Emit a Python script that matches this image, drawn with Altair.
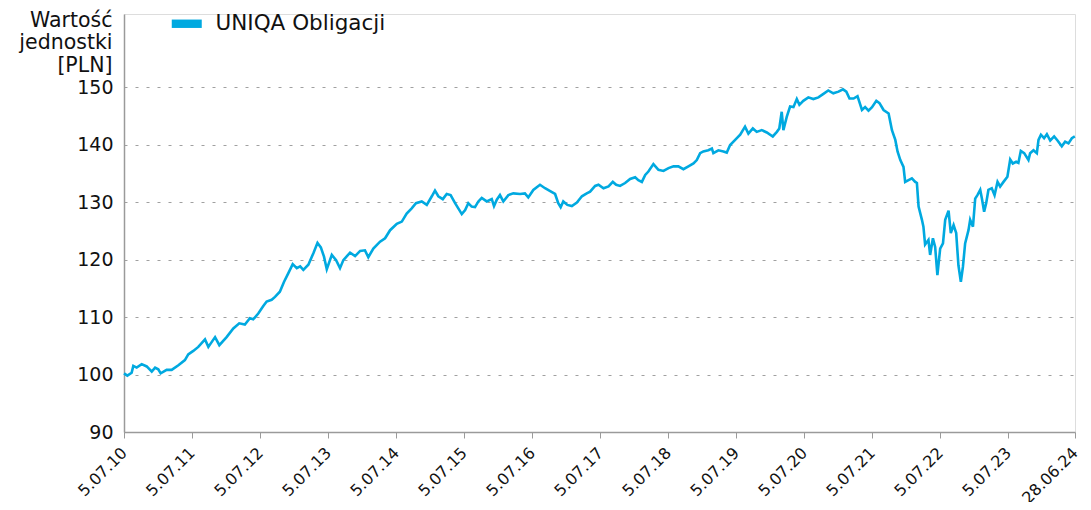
import altair as alt
import pandas as pd

# Decimal-year positions and fund unit values
YEARS = [
    2010.508, 2010.557, 2010.621, 2010.645, 2010.695, 2010.768, 2010.842, 2010.915, 2010.964, 2011.012,
    2011.048, 2011.136, 2011.209, 2011.307, 2011.405, 2011.454, 2011.527, 2011.601, 2011.699, 2011.748,
    2011.846, 2011.909, 2012.018, 2012.115, 2012.204, 2012.287, 2012.361, 2012.409, 2012.483, 2012.557,
    2012.607, 2012.680, 2012.729, 2012.802, 2012.861, 2012.924, 2012.989, 2013.048, 2013.096, 2013.145,
    2013.218, 2013.292, 2013.351, 2013.401, 2013.449, 2013.489, 2013.562, 2013.626, 2013.684, 2013.733,
    2013.832, 2013.905, 2013.979, 2014.052, 2014.101, 2014.174, 2014.273, 2014.346, 2014.420, 2014.518,
    2014.592, 2014.665, 2014.739, 2014.802, 2014.886, 2014.959, 2015.033, 2015.082, 2015.130, 2015.195,
    2015.254, 2015.312, 2015.376, 2015.439, 2015.474, 2015.523, 2015.571, 2015.621, 2015.670, 2015.718,
    2015.768, 2015.842, 2015.915, 2015.949, 2015.989, 2016.037, 2016.086, 2016.159, 2016.233, 2016.332,
    2016.405, 2016.454, 2016.527, 2016.626, 2016.699, 2016.762, 2016.846, 2016.895, 2016.930, 2016.968,
    2017.027, 2017.092, 2017.165, 2017.239, 2017.312, 2017.361, 2017.434, 2017.483, 2017.557, 2017.630,
    2017.695, 2017.743, 2017.802, 2017.876, 2017.949, 2018.023, 2018.071, 2018.121, 2018.170, 2018.218,
    2018.292, 2018.365, 2018.439, 2018.512, 2018.586, 2018.659, 2018.733, 2018.807, 2018.880, 2018.930,
    2018.979, 2019.027, 2019.101, 2019.151, 2019.174, 2019.248, 2019.321, 2019.371, 2019.420, 2019.493,
    2019.567, 2019.640, 2019.689, 2019.754, 2019.812, 2019.886, 2019.959, 2020.048, 2020.107, 2020.145,
    2020.180, 2020.204, 2020.254, 2020.302, 2020.351, 2020.401, 2020.439, 2020.498, 2020.571, 2020.645,
    2020.718, 2020.792, 2020.865, 2020.939, 2021.012, 2021.077, 2021.126, 2021.174, 2021.233, 2021.292,
    2021.357, 2021.405, 2021.454, 2021.504, 2021.567, 2021.615, 2021.674, 2021.748, 2021.798, 2021.846,
    2021.880, 2021.920, 2021.968, 2021.993, 2022.042, 2022.092, 2022.140, 2022.165, 2022.189, 2022.239,
    2022.262, 2022.287, 2022.336, 2022.361, 2022.401, 2022.434, 2022.468, 2022.508, 2022.548, 2022.582,
    2022.630, 2022.665, 2022.704, 2022.743, 2022.777, 2022.812, 2022.842, 2022.876, 2022.924, 2022.949,
    2022.989, 2023.023, 2023.057, 2023.096, 2023.121, 2023.155, 2023.184, 2023.218, 2023.268, 2023.307,
    2023.351, 2023.390, 2023.439, 2023.498, 2023.537, 2023.577, 2023.626, 2023.659, 2023.695, 2023.743,
    2023.807, 2023.832, 2023.880, 2023.930, 2023.954, 2023.989, 2024.037, 2024.077, 2024.126, 2024.184,
    2024.233, 2024.298, 2024.346, 2024.395, 2024.445, 2024.490,
]
VALUES = [
    100.2, 99.8, 100.3, 101.5, 101.2, 101.8, 101.4, 100.5, 101.2, 100.9,
    100.2, 100.8, 100.8, 101.6, 102.5, 103.5, 104.1, 104.8, 106.1, 104.8,
    106.5, 105.1, 106.5, 108.0, 108.9, 108.7, 109.8, 109.6, 110.6, 111.9,
    112.7, 113.0, 113.5, 114.4, 116.1, 117.6, 119.2, 118.5, 118.8, 118.2,
    119.1, 121.1, 122.9, 122.1, 120.5, 118.3, 120.8, 119.9, 118.5, 119.9,
    121.2, 120.6, 121.5, 121.6, 120.4, 121.9, 123.1, 123.7, 125.1, 126.2,
    126.6, 128.0, 128.9, 129.8, 130.1, 129.5, 131.0, 132.0, 131.0, 130.5,
    131.4, 131.2, 129.8, 128.6, 127.9, 128.6, 129.8, 129.2, 129.1, 130.1,
    130.7, 130.1, 130.5, 129.3, 130.4, 131.2, 130.1, 131.2, 131.5, 131.4,
    131.5, 130.8, 132.1, 133.0, 132.4, 132.0, 131.4, 129.8, 129.1, 130.1,
    129.5, 129.3, 129.9, 131.0, 131.5, 131.8, 132.8, 133.0, 132.4, 132.7,
    133.5, 133.0, 132.8, 133.3, 134.0, 134.3, 133.8, 133.5, 134.7, 135.3,
    136.6, 135.6, 135.4, 135.9, 136.2, 136.2, 135.7, 136.2, 136.7, 137.3,
    138.5, 138.8, 139.0, 139.3, 138.5, 139.0, 138.8, 138.6, 139.9, 140.8,
    141.7, 143.1, 141.9, 142.8, 142.2, 142.5, 142.1, 141.4, 142.2, 142.8,
    145.7, 142.5, 144.8, 146.6, 146.5, 147.9, 146.9, 147.6, 148.2, 147.9,
    148.2, 148.8, 149.4, 148.9, 149.2, 149.6, 149.2, 148.0, 148.0, 148.4,
    146.0, 146.5, 145.9, 146.5, 147.6, 147.2, 146.0, 145.4, 142.5, 140.8,
    138.8, 137.3, 136.1, 133.5, 133.8, 134.1, 133.5, 133.3, 129.2, 126.9,
    125.7, 122.6, 123.4, 120.8, 123.7, 122.2, 117.3, 121.9, 122.8, 126.9,
    128.5, 124.6, 126.0, 124.6, 119.0, 116.1, 118.7, 122.8, 125.1, 126.9,
    125.7, 130.6, 131.2, 132.1, 130.6, 128.3, 129.8, 132.1, 132.4, 131.2,
    133.5, 132.7, 133.5, 134.4, 137.4, 136.7, 137.0, 136.8, 138.9, 138.5,
    137.3, 138.5, 139.0, 138.5, 140.8, 141.7, 141.1, 141.8, 140.7, 141.4,
    140.7, 139.7, 140.5, 140.2, 141.1, 141.4,
]
SERIES = "UNIQA Obligacji"
TICK_DATES = [(2010 + i, 7, 5) for i in range(14)] + [(2024, 6, 28)]
Y_TICKS = [90, 100, 110, 120, 130, 140, 150]
Y_TITLE = ["Wartość", "jednostki", "[PLN]"]

BLUE = "#00A9E0"
FONT = "DejaVu Sans"


def to_date(y):
    base = int(y)
    return (pd.Timestamp(year=base, month=1, day=1) + pd.Timedelta(days=(y - base) * 365.25)).strftime("%Y-%m-%d")


df = pd.DataFrame({"date": [to_date(y) for y in YEARS], "value": VALUES, "series": SERIES})

tick_vals = [alt.DateTime(year=y, month=m, date=d, utc=True) for (y, m, d) in TICK_DATES]

chart = alt.Chart(df).mark_line(strokeWidth=2.6, interpolate="linear").encode(
    x=alt.X(
        "date:T",
        scale=alt.Scale(type="utc", domain=[tick_vals[0], tick_vals[-1]], nice=False),
        axis=alt.Axis(
            values=tick_vals,
            format="%-d.%m.%y",
            labelAngle=-45,
            labelAlign="right",
            labelBaseline="middle",
            labelPadding=12,
            labelFontSize=16,
            labelColor="#111",
            labelFont=FONT,
            tickSize=6,
            tickColor="#9a9a9a",
            domainColor="#9a9a9a",
            domainWidth=1.5,
            grid=False,
            title=None,
            labelOverlap=False,
            labelBound=False,
            labelFlush=False,
        ),
    ),
    y=alt.Y(
        "value:Q",
        scale=alt.Scale(domain=[90, 162.7], nice=False, zero=False),
        axis=alt.Axis(
            values=Y_TICKS,
            ticks=False,
            labelFontSize=19,
            labelColor="#111",
            labelFont=FONT,
            labelPadding=11,
            domainColor="#9a9a9a",
            domainWidth=1.5,
            grid=True,
            gridColor="#a0a0a0",
            gridDash=[3, 8],
            gridWidth=1,
            title=Y_TITLE,
            titleAngle=0,
            titleAlign="right",
            titleBaseline="top",
            titleX=-12,
            titleY=-4,
            titleFont=FONT,
            titleFontSize=20.5,
            titleFontWeight="normal",
            titleColor="#111",
            titleLineHeight=22.5,
        ),
    ),
    color=alt.Color(
        "series:N",
        scale=alt.Scale(range=[BLUE]),
        legend=alt.Legend(
            title=None,
            orient="none",
            legendX=52,
            legendY=-1,
            symbolType="M-1.5,-0.42L1.5,-0.42L1.5,0.42L-1.5,0.42Z",
            symbolSize=400,
            symbolFillColor=BLUE,
            symbolStrokeColor=BLUE,
            symbolStrokeWidth=0,
            labelFontSize=21.5,
            labelFont=FONT,
            labelColor="#111",
            labelOffset=18,
            labelLimit=400,
        ),
    ),
).properties(
    width=951,
    height=418,
    padding={"left": 116, "top": 6, "right": 7, "bottom": 70},
    autosize=alt.AutoSizeParams(type="none"),
).configure_view(stroke=None).configure(background="white")

chart.save("out.html", embed_options={"renderer": "svg", "actions": False})
